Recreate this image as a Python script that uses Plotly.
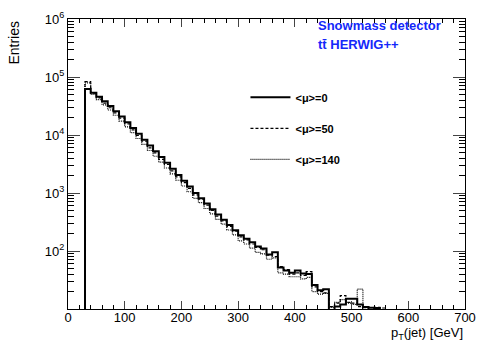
import plotly.graph_objects as go

# bin lower edges (GeV), bin width 10 GeV
bin_edges = list(range(30, 570, 10))  # 30..560

mu0 = [62000, 53700, 45700, 38000, 31600, 25700, 20900, 16600, 13200, 10500,
       8300, 6600, 5250, 4170, 3310, 2630, 2040, 1620, 1290, 1000,
       810, 660, 525, 427, 347, 282, 229, 186, 162, 141,
       120, 110, 87, 95, 52, 46, 42, 46, 41, 40,
       26, 21, 22, 6, 11, 12, 15, 15, 12, 10.8,
       10.5, 10.4, 0]
mu50 = [83000, 52500, 43600, 35500, 29500, 24000, 19500, 15500, 12300, 9800,
        7800, 6000, 4900, 3800, 3100, 2400, 1900, 1510, 1200, 930,
        780, 620, 500, 400, 330, 265, 220, 175, 155, 132,
        115, 105, 85, 80, 54, 48, 40, 42, 38, 44,
        24, 20, 19, 11, 12.6, 17, 13, 12.6, 11, 10.5,
        0, 10.7, 10.4]
mu140 = [79000, 50000, 40700, 33000, 27000, 21900, 17400, 13800, 11000, 8700,
         6900, 5400, 4300, 3400, 2700, 2140, 1660, 1320, 1050, 810,
         680, 540, 435, 350, 290, 230, 190, 150, 132, 112,
         95, 89, 72, 76, 42, 40, 36, 36, 33, 35,
         20, 18, 18.6, 10.7, 13, 14.5, 12.6, 12, 22, 10.5,
         0, 0, 0]

series = [
    ("<b>&lt;μ&gt;=0</b>", mu0, dict(color="black", width=2, dash="solid")),
    ("<b>&lt;μ&gt;=50</b>", mu50, dict(color="black", width=1.2, dash="3px,2px")),
    ("<b>&lt;μ&gt;=140</b>", mu140, dict(color="black", width=1.2, dash="1px,1px")),
]

x_ticks = [0, 100, 200, 300, 400, 500, 600, 700]
y_ticks = [1e2, 1e3, 1e4, 1e5, 1e6]
y_ticktext = ["10<sup>2</sup>", "10<sup>3</sup>", "10<sup>4</sup>", "10<sup>5</sup>", "10<sup>6</sup>"]
y_minor = [d * 10 ** k for k in range(1, 6) for d in range(2, 10)]

FLOOR = 1.0  # below axis range -> drawn along bottom / clipped

fig = go.Figure()
for i, (name, vals, line) in enumerate(series):
    xs = [bin_edges[0]] + bin_edges[:len(vals)] + [bin_edges[len(vals)], bin_edges[len(vals)]]
    ys = [FLOOR] + [v if v > 0 else FLOOR for v in vals] + [vals[-1] if vals[-1] > 0 else FLOOR, FLOOR]
    fig.add_trace(go.Scatter(x=xs, y=ys, mode="lines", line_shape="hv", line=line,
                             name=name, legendgroup=f"g{i}"))

font_family = "Liberation Sans, Arial, sans-serif"

fig.update_layout(
    width=486, height=347,
    margin=dict(l=68, r=10, t=10, b=38),
    paper_bgcolor="white", plot_bgcolor="white",
    font=dict(family=font_family, color="black", size=13),
    showlegend=True,
    legend=dict(x=0.447, y=0.78, xanchor="left", yanchor="top",
                bgcolor="rgba(0,0,0,0)", font=dict(size=11, color="black"),
                tracegroupgap=12, itemwidth=40),
    xaxis=dict(range=[0, 700], tickvals=x_ticks, ticks="inside", ticklen=8,
               showline=True, linecolor="black", linewidth=1, mirror="ticks",
               showgrid=False, zeroline=False, tickfont=dict(size=13),
               ticklabelstandoff=-4,
               minor=dict(ticks="inside", ticklen=4, dtick=20, tick0=0,
                          tickcolor="black", showgrid=False)),
    yaxis=dict(type="log", range=[1, 6], tickvals=y_ticks, ticktext=y_ticktext,
               ticks="inside", ticklen=12, showline=True, linecolor="black",
               linewidth=1, mirror="ticks", showgrid=False, zeroline=False,
               tickfont=dict(size=13),
               minor=dict(ticks="inside", ticklen=6, tickvals=y_minor,
                          tickcolor="black", showgrid=False)),
    annotations=[
        dict(text="Entries", textangle=-90, xref="paper", yref="paper",
             x=-0.135, y=0.92, xanchor="center", yanchor="middle",
             showarrow=False, font=dict(size=14)),
        dict(text="p<sub>T</sub>(jet) [GeV]", xref="paper", yref="paper",
             x=1.0, y=-0.085, xanchor="right", yanchor="middle",
             showarrow=False, font=dict(size=13)),
        dict(text="<b>Snowmass detector</b>", xref="paper", yref="paper",
             x=0.625, y=0.977, xanchor="left", yanchor="middle",
             showarrow=False, font=dict(size=13, color="rgb(20,40,250)")),
        dict(text="<b>tt\u0304 HERWIG++</b>", xref="paper", yref="paper",
             x=0.625, y=0.913, xanchor="left", yanchor="middle",
             showarrow=False, font=dict(size=13, color="rgb(20,40,250)")),
    ],
)

fig.write_html("out.html")
